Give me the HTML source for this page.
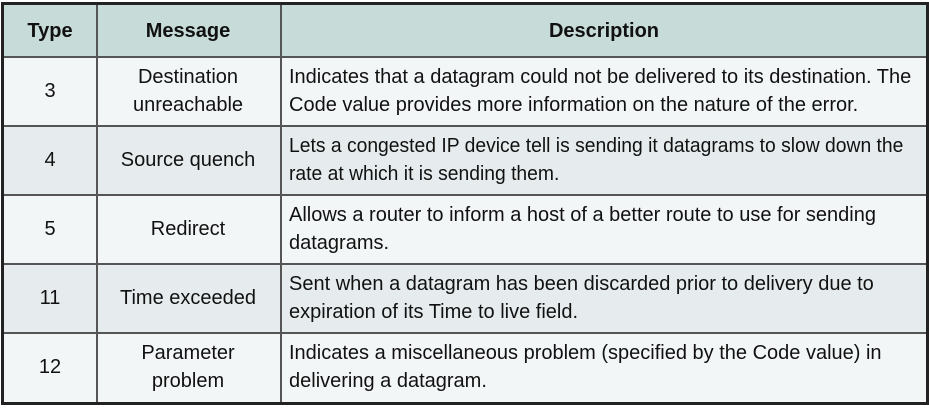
<!DOCTYPE html>
<html><head><meta charset="utf-8"><style>
body{margin:0;width:929px;height:412px;background:#fff;font-family:"Liberation Sans",sans-serif;color:#111;position:relative;overflow:hidden}
.t{position:absolute;left:1px;top:2px;width:922px;height:397px;border:3px solid #222;background:#f3f6f7}
.r{position:absolute;left:0;width:922px;border-top:2px solid #555}
.v{position:absolute;top:0;height:397px;width:2px;background:#555}
.c{position:absolute;white-space:nowrap;font-size:20px;line-height:28px}
.ctr{transform:translateX(-50%);text-align:center}
.d{transform-origin:left top}
.h{font-weight:bold}
</style></head><body>
<div class="t">
<div style="position:absolute;left:0;top:0;width:922px;height:51px;background:#c7dbd8"></div>
<div class="r" style="top:51px;height:68px"></div>
<div class="r" style="top:120px;height:67px;background:#e6eced"></div>
<div class="r" style="top:189px"></div>
<div class="r" style="top:258px;height:67px;background:#e6eced"></div>
<div class="r" style="top:327px"></div>
<div class="v" style="left:92px"></div>
<div class="v" style="left:276px"></div>

<div class="c ctr h" style="left:46px;top:12px">Type</div>
<div class="c ctr h" style="left:184px;top:12px">Message</div>
<div class="c ctr h" style="left:600px;top:12px">Description</div>

<div class="c ctr" style="left:46px;top:72px">3</div>
<div class="c ctr" style="left:184px;top:58px">Destination<br>unreachable</div>
<div class="c d" style="left:285px;top:58px">Indicates that a datagram could not be delivered to its destination. The<br>Code value provides more information on the nature of the error.</div>

<div class="c ctr" style="left:46px;top:141px">4</div>
<div class="c ctr" style="left:184px;top:141px">Source quench</div>
<div class="c d" style="left:285px;top:127px;transform:scaleX(0.965)">Lets a congested IP device tell is sending it datagrams to slow down the<br>rate at which it is sending them.</div>

<div class="c ctr" style="left:46px;top:210px">5</div>
<div class="c ctr" style="left:184px;top:210px">Redirect</div>
<div class="c d" style="left:285px;top:196px">Allows a router to inform a host of a better route to use for sending<br>datagrams.</div>

<div class="c ctr" style="left:46px;top:279px">11</div>
<div class="c ctr" style="left:184px;top:279px">Time exceeded</div>
<div class="c d" style="left:285px;top:265px">Sent when a datagram has been discarded prior to delivery due to<br>expiration of its Time to live field.</div>

<div class="c ctr" style="left:46px;top:348px">12</div>
<div class="c ctr" style="left:184px;top:334px">Parameter<br>problem</div>
<div class="c d" style="left:285px;top:334px">Indicates a miscellaneous problem (specified by the Code value) in<br>delivering a datagram.</div>
</div>
</body></html>
